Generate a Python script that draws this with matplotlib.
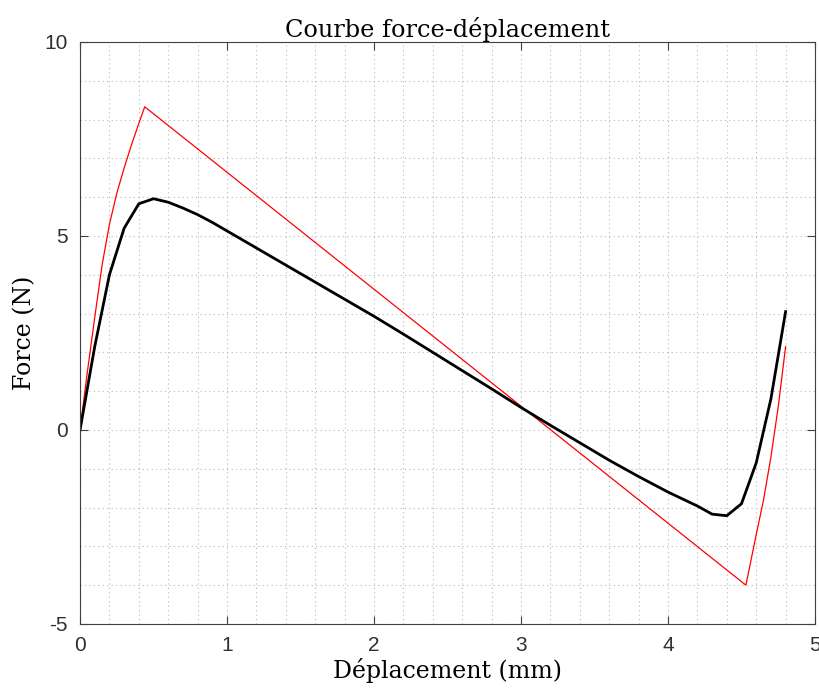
import numpy as np
import matplotlib
matplotlib.use('Agg')
import matplotlib.pyplot as plt
from matplotlib.ticker import MultipleLocator

# Courbe experimentale (rouge) et courbe modele (noire)
x_red = [0, 0.05, 0.1, 0.15, 0.2, 0.25, 0.3, 0.35, 0.4, 0.44,
         4.53, 4.6, 4.65, 4.7, 4.75, 4.8]
y_red = [0, 1.5, 2.9, 4.25, 5.3, 6.1, 6.75, 7.35, 7.9, 8.33,
         -4.0, -2.7, -1.8, -0.7, 0.6, 2.15]

x_black = [0, 0.1, 0.2, 0.3, 0.4, 0.5, 0.6, 0.7, 0.8, 0.9, 1.0,
           1.2, 1.4, 1.6, 1.8, 2.0, 2.2, 2.4, 2.6, 2.8, 3.0, 3.2,
           3.4, 3.6, 3.8, 4.0, 4.1, 4.2, 4.3, 4.4, 4.5, 4.6, 4.7, 4.8]
y_black = [0, 2.15, 4.0, 5.2, 5.83, 5.96, 5.87, 5.72, 5.55, 5.35, 5.13,
           4.69, 4.25, 3.81, 3.37, 2.93, 2.47, 2.0, 1.53, 1.06, 0.58, 0.12,
           -0.33, -0.78, -1.2, -1.6, -1.78, -1.96, -2.17, -2.21, -1.9, -0.85, 0.8, 3.05]

plt.rcParams['axes.unicode_minus'] = False
plt.rcParams['font.family'] = 'Liberation Sans'

fig = plt.figure(figsize=(8.2, 6.95), dpi=100)
ax = fig.add_axes([0.0976, 0.1022, 0.8963, 0.8374])

ax.plot(x_red, y_red, color='red', lw=0.9)
ax.plot(x_black, y_black, color='black', lw=2.0)

ax.set_xlim(0, 5)
ax.set_ylim(-5, 10)
ax.xaxis.set_major_locator(MultipleLocator(1))
ax.xaxis.set_minor_locator(MultipleLocator(0.2))
ax.yaxis.set_major_locator(MultipleLocator(5))
ax.yaxis.set_minor_locator(MultipleLocator(1))

ax.grid(True, which='both', color='#b8b8b8', linestyle=(0, (1, 3)), lw=0.8)
ax.tick_params(which='major', direction='in', length=6, width=0.8, color='#404040',
               top=True, right=True, labelsize=15, labelcolor='#303030', pad=9)
ax.tick_params(which='minor', length=0, top=True, right=True)
for s in ax.spines.values():
    s.set_color('#404040')
    s.set_linewidth(0.8)

serif = 'DejaVu Serif'
ax.set_title('Courbe force-déplacement', family=serif, fontsize=17.3, pad=3)
ax.set_xlabel('Déplacement (mm)', family=serif, fontsize=17, labelpad=2)
ax.set_ylabel('Force (N)', family=serif, fontsize=17, labelpad=6)

plt.savefig('out.png')
